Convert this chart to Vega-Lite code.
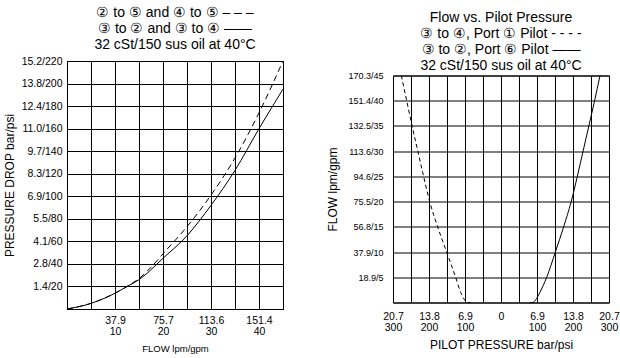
{
  "$schema": "https://vega.github.io/schema/vega-lite/v6.json",
  "background": "white",
  "padding": {"left": 2, "top": 5, "right": 5, "bottom": 0},
  "center": true,
  "datasets": {
    "drop": [
      {"series": "③ to ② and ③ to ④", "gpm": 0, "psi": 0},
      {"series": "③ to ② and ③ to ④", "gpm": 5, "psi": 5},
      {"series": "③ to ② and ③ to ④", "gpm": 10, "psi": 14},
      {"series": "③ to ② and ③ to ④", "gpm": 12.5, "psi": 20},
      {"series": "③ to ② and ③ to ④", "gpm": 15, "psi": 26},
      {"series": "③ to ② and ③ to ④", "gpm": 20, "psi": 45},
      {"series": "③ to ② and ③ to ④", "gpm": 25, "psi": 65},
      {"series": "③ to ② and ③ to ④", "gpm": 30, "psi": 92},
      {"series": "③ to ② and ③ to ④", "gpm": 35, "psi": 123},
      {"series": "③ to ② and ③ to ④", "gpm": 40, "psi": 160},
      {"series": "③ to ② and ③ to ④", "gpm": 45, "psi": 195},
      {"series": "② to ⑤ and ④ to ⑤", "gpm": 0, "psi": 0},
      {"series": "② to ⑤ and ④ to ⑤", "gpm": 5, "psi": 5},
      {"series": "② to ⑤ and ④ to ⑤", "gpm": 10, "psi": 14},
      {"series": "② to ⑤ and ④ to ⑤", "gpm": 12.5, "psi": 20},
      {"series": "② to ⑤ and ④ to ⑤", "gpm": 15, "psi": 27},
      {"series": "② to ⑤ and ④ to ⑤", "gpm": 17.5, "psi": 37},
      {"series": "② to ⑤ and ④ to ⑤", "gpm": 20, "psi": 49},
      {"series": "② to ⑤ and ④ to ⑤", "gpm": 25, "psi": 73},
      {"series": "② to ⑤ and ④ to ⑤", "gpm": 30, "psi": 101},
      {"series": "② to ⑤ and ④ to ⑤", "gpm": 35, "psi": 134},
      {"series": "② to ⑤ and ④ to ⑤", "gpm": 40, "psi": 174},
      {"series": "② to ⑤ and ④ to ⑤", "gpm": 45, "psi": 220}
    ],
    "pilot": [
      {"series": "③ to ④, Port ① Pilot", "psi": -277, "gpm": 45},
      {"series": "③ to ④, Port ① Pilot", "psi": -262, "gpm": 40},
      {"series": "③ to ④, Port ① Pilot", "psi": -247, "gpm": 35},
      {"series": "③ to ④, Port ① Pilot", "psi": -231, "gpm": 30},
      {"series": "③ to ④, Port ① Pilot", "psi": -215, "gpm": 25},
      {"series": "③ to ④, Port ① Pilot", "psi": -198, "gpm": 20},
      {"series": "③ to ④, Port ① Pilot", "psi": -176, "gpm": 15},
      {"series": "③ to ④, Port ① Pilot", "psi": -151, "gpm": 10},
      {"series": "③ to ④, Port ① Pilot", "psi": -126, "gpm": 5},
      {"series": "③ to ④, Port ① Pilot", "psi": -112, "gpm": 2},
      {"series": "③ to ④, Port ① Pilot", "psi": -100, "gpm": 0.4},
      {"series": "③ to ④, Port ① Pilot", "psi": -95, "gpm": 0},
      {"series": "③ to ④, Port ① Pilot", "psi": -85, "gpm": 0},
      {"series": "③ to ②, Port ⑥ Pilot", "psi": 80, "gpm": 0},
      {"series": "③ to ②, Port ⑥ Pilot", "psi": 88, "gpm": 0},
      {"series": "③ to ②, Port ⑥ Pilot", "psi": 96, "gpm": 0.5},
      {"series": "③ to ②, Port ⑥ Pilot", "psi": 108, "gpm": 2},
      {"series": "③ to ②, Port ⑥ Pilot", "psi": 127, "gpm": 5},
      {"series": "③ to ②, Port ⑥ Pilot", "psi": 151, "gpm": 10},
      {"series": "③ to ②, Port ⑥ Pilot", "psi": 174, "gpm": 15},
      {"series": "③ to ②, Port ⑥ Pilot", "psi": 195, "gpm": 20},
      {"series": "③ to ②, Port ⑥ Pilot", "psi": 212, "gpm": 25},
      {"series": "③ to ②, Port ⑥ Pilot", "psi": 228, "gpm": 30},
      {"series": "③ to ②, Port ⑥ Pilot", "psi": 244, "gpm": 35},
      {"series": "③ to ②, Port ⑥ Pilot", "psi": 260, "gpm": 40},
      {"series": "③ to ②, Port ⑥ Pilot", "psi": 275, "gpm": 45}
    ]
  },
  "config": {
    "font": "Liberation Sans",
    "view": {"stroke": "black", "strokeWidth": 1},
    "axis": {
      "grid": true, "gridColor": "black", "gridOpacity": 1, "gridWidth": 1,
      "domain": false, "ticks": false,
      "labelColor": "black", "titleColor": "black",
      "labelFontSize": 10.5, "titleFontSize": 12, "titleFontWeight": "normal",
      "labelOverlap": false, "labelFlush": false, "labelLineHeight": 11
    },
    "title": {"fontSize": 14, "fontWeight": "normal", "lineHeight": 16, "frame": "group", "anchor": "middle", "color": "black"},
    "concat": {"spacing": 40}
  },
  "hconcat": [
    {
      "title": {"text": ["② to ⑤ and ④ to ⑤ – – –", "③ to ② and ③ to ④ ——", "32 cSt/150 sus oil at 40°C"], "offset": 4},
      "width": 216,
      "height": 248,
      "data": {"name": "drop"},
      "encoding": {
        "x": {
          "field": "gpm", "type": "quantitative",
          "scale": {"domain": [0, 45], "nice": false},
          "axis": {
            "title": ["FLOW lpm/gpm", " "], "titleFontSize": 9.5, "titleLineHeight": 11.5, "labelPadding": 6, "titlePadding": 7,
            "values": [0, 5, 10, 15, 20, 25, 30, 35, 40, 45],
            "labelExpr": "datum.value == 10 ? ['37.9','10'] : datum.value == 20 ? ['75.7','20'] : datum.value == 30 ? ['113.6','30'] : datum.value == 40 ? ['151.4','40'] : ''"
          }
        },
        "y": {
          "field": "psi", "type": "quantitative",
          "scale": {"domain": [0, 220], "nice": false},
          "axis": {
            "title": "PRESSURE DROP bar/psi", "labelPadding": 5, "titlePadding": 5,
            "values": [0, 20, 40, 60, 80, 100, 120, 140, 160, 180, 200, 220],
            "labelExpr": "datum.value == 0 ? '' : format(datum.value / 14.5038, '.1f') + '/' + datum.value"
          }
        }
      },
      "layer": [
        {
          "transform": [{"filter": "datum.series == '③ to ② and ③ to ④'"}],
          "mark": {"type": "line", "color": "black", "strokeWidth": 1, "interpolate": "monotone"}
        },
        {
          "transform": [{"filter": "datum.series == '② to ⑤ and ④ to ⑤'"}],
          "mark": {"type": "line", "color": "black", "strokeWidth": 1, "strokeDash": [6, 4], "interpolate": "monotone"}
        }
      ]
    },
    {
      "title": {"text": ["Flow vs. Pilot Pressure", "③ to ④, Port ① Pilot - - - -", "③ to ②, Port ⑥ Pilot ——", "32 cSt/150 sus oil at 40°C"], "offset": -1},
      "width": 216,
      "height": 227,
      "data": {"name": "pilot"},
      "encoding": {
        "x": {
          "field": "psi", "type": "quantitative",
          "scale": {"domain": [-300, 300], "nice": false},
          "axis": {
            "title": "PILOT PRESSURE bar/psi", "labelPadding": 9, "titlePadding": 6,
            "values": [-300, -250, -200, -150, -100, -50, 0, 50, 100, 150, 200, 250, 300],
            "labelExpr": "abs(datum.value) == 300 ? ['20.7','300'] : abs(datum.value) == 200 ? ['13.8','200'] : abs(datum.value) == 100 ? ['6.9','100'] : datum.value == 0 ? '0' : ''"
          }
        },
        "y": {
          "field": "gpm", "type": "quantitative",
          "scale": {"domain": [0, 45], "nice": false},
          "axis": {
            "title": "FLOW lpm/gpm", "labelPadding": 10, "titlePadding": 8, "labelFontSize": 9,
            "values": [0, 5, 10, 15, 20, 25, 30, 35, 40, 45],
            "labelExpr": "datum.value == 45 ? '170.3/45' : datum.value == 40 ? '151.4/40' : datum.value == 35 ? '132.5/35' : datum.value == 30 ? '113.6/30' : datum.value == 25 ? '94.6/25' : datum.value == 20 ? '75.5/20' : datum.value == 15 ? '56.8/15' : datum.value == 10 ? '37.9/10' : datum.value == 5 ? '18.9/5' : ''"
          }
        }
      },
      "layer": [
        {
          "transform": [{"filter": "datum.series == '③ to ②, Port ⑥ Pilot'"}],
          "mark": {"type": "line", "color": "black", "strokeWidth": 1, "interpolate": "monotone"}
        },
        {
          "transform": [{"filter": "datum.series == '③ to ④, Port ① Pilot'"}],
          "mark": {"type": "line", "color": "black", "strokeWidth": 1, "strokeDash": [4, 3], "interpolate": "monotone"}
        }
      ]
    }
  ]
}
